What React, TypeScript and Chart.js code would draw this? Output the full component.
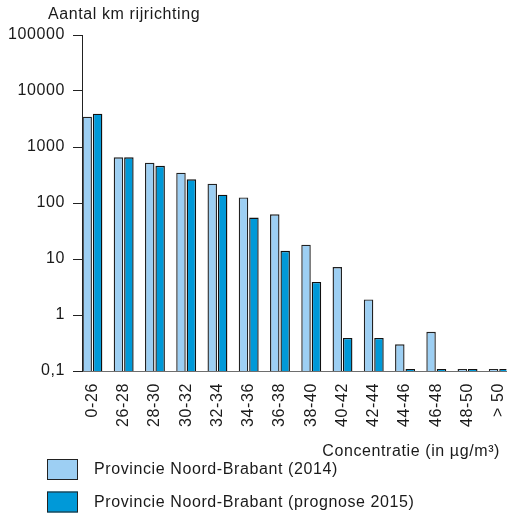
import React, { useEffect, useRef } from "react";
import { Chart, registerables } from "chart.js";

Chart.register(...registerables);

const categories = ["0-26", "26-28", "28-30", "30-32", "32-34", "34-36", "36-38", "38-40", "40-42", "42-44", "44-46", "46-48", "48-50", "> 50"];
const values2014 = [3475, 655, 524, 348, 221, 126, 63, 18, 7.2, 1.9, 0.3, 0.5, 0.1, 0.1];
const values2015 = [3935, 655, 463, 265, 141, 55, 14, 3.9, 0.39, 0.39, 0.1, 0.1, 0.1, 0.1];
const seriesLabels = ["Provincie Noord-Brabant (2014)", "Provincie Noord-Brabant (prognose 2015)"];
const yTicks = [0.1, 1, 10, 100, 1000, 10000, 100000];
const yAxisCaption = "Aantal km rijrichting";
const xAxisCaption = "Concentratie (in µg/m³)";

const FONT = "'Liberation Sans', Arial, sans-serif";
const TEXT = "#1a1a1a";
const LIGHT = "#9dcff3";
const DARK = "#0099d8";
const SPACING = "0.6px";

const spacingPlugin = {
  id: "spacing",
  beforeUpdate(chart: any) {
    chart.ctx.letterSpacing = SPACING;
  },
  beforeLayout(chart: any) {
    chart.ctx.letterSpacing = SPACING;
  },
  beforeDraw(chart: any) {
    chart.ctx.letterSpacing = SPACING;
  },
};

const captionsPlugin = {
  id: "captions",
  afterDraw(chart: any) {
    const ctx = chart.ctx;
    ctx.save();
    ctx.letterSpacing = SPACING;
    ctx.fillStyle = TEXT;
    ctx.font = `16px ${FONT}`;
    ctx.textBaseline = "alphabetic";
    ctx.textAlign = "left";
    ctx.fillText(yAxisCaption, 48, 19);
    ctx.textAlign = "right";
    ctx.fillText(xAxisCaption, 500, 456);
    ctx.textAlign = "left";
    ctx.textBaseline = "middle";
    chart.data.datasets.forEach((ds: any, i: number) => {
      const top = 459 + i * 32.5;
      ctx.fillStyle = ds.backgroundColor;
      ctx.fillRect(47, top, 31, 21);
      ctx.strokeStyle = "#222";
      ctx.lineWidth = 1;
      ctx.strokeRect(47.5, top + 0.5, 30, 20);
      ctx.fillStyle = TEXT;
      ctx.fillText(ds.label, 94, top + 11);
    });
    ctx.restore();
  },
};

export default function App() {
  const ref = useRef<HTMLCanvasElement | null>(null);
  useEffect(() => {
    if (!ref.current) return;
    const chart = new Chart(ref.current, {
      type: "bar",
      data: {
        datasets: [
          {
            label: seriesLabels[0],
            data: values2014.map((v, i) => ({ x: i, y: v })),
            backgroundColor: LIGHT,
            borderColor: "#222",
            borderWidth: 1.4,
            minBarLength: 2,
          },
          {
            label: seriesLabels[1],
            data: values2015.map((v, i) => ({ x: i, y: v })),
            backgroundColor: DARK,
            borderColor: "#111",
            borderWidth: 1.4,
            minBarLength: 2,
          },
        ],
      },
      options: {
        animation: false,
        responsive: true,
        maintainAspectRatio: false,
        layout: { padding: { top: 35, left: 0, right: 0, bottom: 0 } },
        datasets: { bar: { categoryPercentage: 0.667, barPercentage: 0.91 } },
        plugins: {
          legend: { display: false },
          tooltip: { enabled: false },
          title: { display: false },
        },
        scales: {
          x: {
            type: "linear",
            min: -0.333,
            max: 13.242,
            offset: false,
            afterBuildTicks: (scale: any) => {
              scale.ticks = categories.map((_, i) => ({ value: i }));
            },
            afterFit: (scale: any) => {
              scale.height = 146;
            },
            grid: { display: false, drawTicks: false },
            border: { display: true, color: "#6e6e6e", width: 1 },
            ticks: {
              autoSkip: false,
              maxRotation: 90,
              minRotation: 90,
              padding: 12,
              color: TEXT,
              font: { family: FONT, size: 16 },
              callback: (v: any) => categories[v] ?? "",
            },
          },
          y: {
            type: "logarithmic",
            min: 0.1,
            max: 100000,
            afterBuildTicks: (scale: any) => {
              scale.ticks = yTicks.map((v) => ({ value: v }));
            },
            afterFit: (scale: any) => {
              scale.width = 82;
            },
            grid: { drawOnChartArea: false, drawTicks: true, tickLength: 9, color: "#222" },
            border: { display: true, color: "#222", width: 1 },
            ticks: {
              padding: 8,
              color: TEXT,
              font: { family: FONT, size: 16 },
              callback: (v: any) => (v === 0.1 ? "0,1" : String(v)),
            },
          },
        },
      },
      plugins: [spacingPlugin, captionsPlugin],
    } as any);
    return () => chart.destroy();
  }, []);
  return (
    <div style={{ position: "absolute", left: 0, top: 0, width: 530, height: 517, background: "#fff" }}>
      <canvas ref={ref} />
    </div>
  );
}
